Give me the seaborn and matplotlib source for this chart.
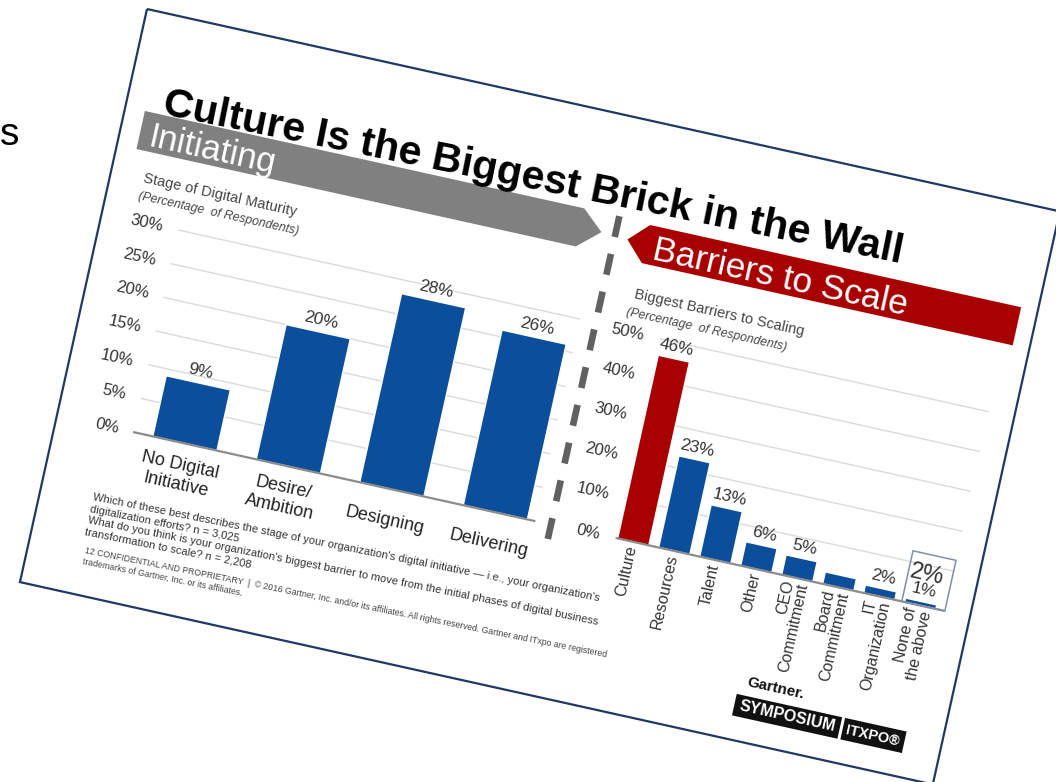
import matplotlib
matplotlib.use("Agg")
import matplotlib.pyplot as plt
import seaborn as sns
from matplotlib.patches import Polygon, Rectangle
from matplotlib.transforms import Affine2D, blended_transform_factory

# ---- values ----
stage_labels = ["No Digital\nInitiative", "Desire/\nAmbition", "Designing", "Delivering"]
stage_vals = [9, 20, 28, 26]
stage_ticks = [0, 5, 10, 15, 20, 25, 30]

barrier_labels = ["Culture", "Resources", "Talent", "Other", "CEO\nCommitment",
                  "Board\nCommitment", "IT\nOrganization", "None of\nthe above"]
barrier_vals = [46, 23, 13, 6, 5, 3, 2, 1]
barrier_text = ["46%", "23%", "13%", "6%", "5%", "", "2%", "1%"]
barrier_ticks = [0, 10, 20, 30, 40, 50]

title = "Culture Is the Biggest Brick in the Wall"
footnotes = [
    "Which of these best describes the stage of your organization's digital initiative \u2014 i.e., your organization's",
    "digitalization efforts? n = 3,025",
    "What do you think is your organization's biggest barrier to move from the initial phases of digital business",
    "transformation to scale? n = 2,208",
]
legal = [
    "12 CONFIDENTIAL AND PROPRIETARY  |  \u00a9 2016 Gartner, Inc. and/or its affiliates. All rights reserved. Gartner and ITxpo are registered",
    "trademarks of Gartner, Inc. or its affiliates.",
]

BLUE = "#0B4F9C"
RED = "#A80000"
GRAY = "#808080"
NAVY = "#1F3864"

sns.set_style("white")
plt.rcParams["font.family"] = ["Liberation Sans", "DejaVu Sans"]

FW, FH = 1056, 782
fig = plt.figure(figsize=(FW / 100, FH / 100), dpi=100)

# the photographed slide is tilted: its top-left corner sits at (147, 9)
OX, OY = 147, FH - 9
ANG = -12.5
R = Affine2D().rotate_deg_around(OX, OY, ANG)


def rect(u0, v0, u1, v1):
    # axes box of the untilted slide, in figure fractions
    return [(OX + u0) / FW, (OY - v1) / FH, (u1 - u0) / FW, (v1 - v0) / FH]


slide = fig.add_axes(rect(0, 0, 935, 587))
slide.set_xlim(0, 935)
slide.set_ylim(587, 0)
slide.axis("off")
S = slide.transData + R


def stxt(u, v, s, rot=ANG, **kw):
    return slide.text(u, v, s, transform=S, rotation=rot, rotation_mode="anchor", **kw)


# slide frame
slide.add_patch(Rectangle((0, 0), 935, 587, fill=False, ec=NAVY, lw=1.6,
                          transform=S, clip_on=False))

# title and the two arrow banners
stxt(37, 99, title, rot=-11.4, fontsize=29.6, fontweight="bold", color="black",
     ha="left", va="baseline")
slide.add_patch(Polygon([(20, 100), (470, 100), (492, 119.5), (470, 139), (20, 139)],
                        closed=True, fc=GRAY, ec="none", transform=S, clip_on=False))
stxt(30, 134, "Initiating", fontsize=25, color="white", ha="left", va="baseline")
slide.add_patch(Polygon([(519, 121), (538, 102), (918, 102), (918, 141), (538, 141)],
                        closed=True, fc=RED, ec="none", transform=S, clip_on=False))
stxt(546, 135, "Barriers to Scale", fontsize=25.3, color="white", ha="left", va="baseline")

# dashed divider
slide.plot([506, 506], [100, 440], transform=S, color="#616161", lw=4.8,
           dashes=(3.2, 2.6), solid_capstyle="butt", clip_on=False)

# subtitles
stxt(33, 170, "Stage of Digital Maturity", fontsize=10.5, color="#444444")
stxt(32, 188, "(Percentage  of Respondents)", fontsize=8.8, style="italic", color="#444444")
stxt(538, 177, "Biggest Barriers to Scaling", fontsize=10.5, color="#444444")
stxt(534, 195, "(Percentage  of Respondents)", fontsize=8.8, style="italic", color="#444444")

# ---- left chart: stage of digital maturity ----
ax1 = fig.add_axes(rect(78, 209, 490, 416))
sns.barplot(x=stage_labels, y=stage_vals, color=BLUE, saturation=1, width=0.62,
            errorbar=None, ax=ax1)
x1 = (-0.5, 3.387)
ax1.set_xlim(*x1)
ax1.set_ylim(0, 30)
ax1.axis("off")
T1 = ax1.transData + R
for p in ax1.patches:
    p.set_transform(T1)
    p.set_clip_on(False)
    p.set_zorder(3)
ax1.hlines(stage_ticks[1:], *x1, colors="#DADADA", lw=1, transform=T1, clip_on=False, zorder=1)
ax1.hlines([0], *x1, colors="#8C8C8C", lw=1.6, transform=T1, clip_on=False, zorder=4)
ty1 = blended_transform_factory(slide.transData, ax1.transData) + R
for t in stage_ticks:
    ax1.text(63, t, f"{t}%", transform=ty1, rotation=ANG, rotation_mode="anchor",
             ha="right", va="center", fontsize=12, color="#333333")
lift = ax1.transData + Affine2D().translate(0, 4) + R
for i, v in enumerate(stage_vals):
    ax1.text(i, v, f"{v}%", transform=lift, rotation=ANG, rotation_mode="anchor",
             ha="center", va="bottom", fontsize=12.5, color="#333333")
tx1 = blended_transform_factory(ax1.transData, slide.transData) + R
for i, lab in enumerate(stage_labels):
    ax1.text(i, 448, lab, transform=tx1, rotation=ANG, rotation_mode="anchor",
             ha="center", va="center", fontsize=13, linespacing=1.25, color="#222222")

# ---- right chart: biggest barriers ----
ax2 = fig.add_axes(rect(572, 211, 909, 415))
sns.barplot(x=barrier_labels, y=barrier_vals, hue=barrier_labels,
            palette=[RED] + [BLUE] * 7, legend=False, saturation=1, width=0.76,
            errorbar=None, ax=ax2)
x2 = (-0.43, 7.595)
ax2.set_xlim(*x2)
ax2.set_ylim(0, 50)
ax2.axis("off")
T2 = ax2.transData + R
for p in ax2.patches:
    p.set_transform(T2)
    p.set_clip_on(False)
    p.set_zorder(3)
ax2.hlines(barrier_ticks[1:], *x2, colors="#DADADA", lw=1, transform=T2, clip_on=False, zorder=1)
ax2.hlines([0], *x2, colors="#8C8C8C", lw=1.6, transform=T2, clip_on=False, zorder=4)
ty2 = blended_transform_factory(slide.transData, ax2.transData) + R
for t in barrier_ticks:
    ax2.text(556, t, f"{t}%", transform=ty2, rotation=ANG, rotation_mode="anchor",
             ha="right", va="center", fontsize=12, color="#333333")
lift2 = ax2.transData + Affine2D().translate(0, 4) + R
for i, (v, s) in enumerate(zip(barrier_vals, barrier_text)):
    ax2.text(i, v, s, transform=lift2, rotation=ANG, rotation_mode="anchor",
             ha="center", va="bottom", fontsize=12.5, color="#333333")
tx2 = blended_transform_factory(ax2.transData, slide.transData) + R
for i, lab in enumerate(barrier_labels):
    ax2.text(i, 419, lab, transform=tx2, rotation=90 + ANG, rotation_mode="anchor",
             ha="right", va="center", multialignment="right", fontsize=11.5,
             linespacing=1.0, color="#333333")
# call-out box on the smallest answers
ax2.add_patch(Rectangle((6.55, 0), 1.05, 12.7, fill=False, ec="#7F8FA6", lw=1.1,
                        transform=T2, clip_on=False, zorder=5))
ax2.text(7, 7.8, "2%", transform=T2, rotation=ANG, rotation_mode="anchor",
         ha="center", va="center", fontsize=17, color="#333333")

# ---- footnotes ----
for k, line in enumerate(footnotes):
    stxt(53, 491 + 12 * k, line, rot=-11.3, fontsize=8, color="#333333",
         ha="left", va="baseline")
for k, line in enumerate(legal):
    stxt(57, 545 + 11 * k, line, rot=-11.3, fontsize=6.3, color="#444444",
         ha="left", va="baseline")

# ---- Gartner logo ----
stxt(732, 531, "Gartner.", fontsize=11, fontweight="bold", color="#111111",
     ha="left", va="baseline")
slide.add_patch(Rectangle((724, 541), 108, 22, fc="#111111", ec="none", transform=S, clip_on=False))
slide.add_patch(Rectangle((835, 541), 63, 22, fc="#111111", ec="none", transform=S, clip_on=False))
stxt(778, 552, "SYMPOSIUM", fontsize=11.5, fontweight="bold", color="white",
     ha="center", va="center")
stxt(866, 552, "ITXPO\u00ae", fontsize=10.5, fontweight="bold", color="white",
     ha="center", va="center")

# edge of the page behind the slide
fig.text(0, 1 - 135 / FH, "s", fontsize=28, color="black", ha="left", va="center")

fig.savefig("out.png", dpi=100)
